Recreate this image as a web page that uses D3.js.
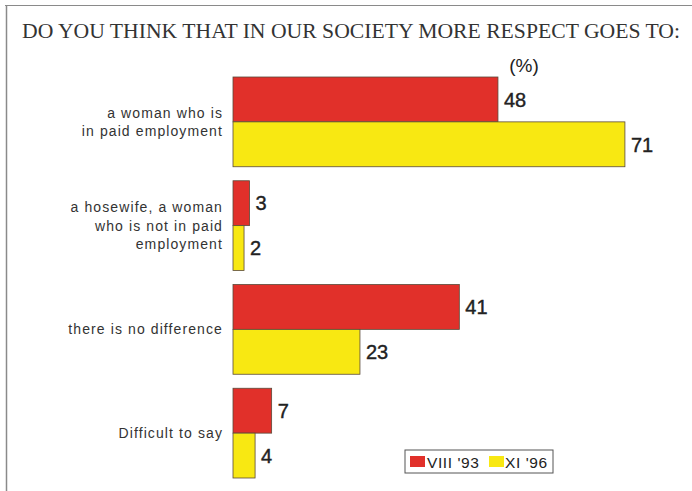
<!DOCTYPE html>
<html>
<head>
<meta charset="utf-8">
<script src="https://cdn.jsdelivr.net/npm/d3@7"></script>
<style>
  html, body { margin: 0; padding: 0; background: #fff; }
  svg { display: block; }
</style>
</head>
<body>
<svg id="chart" width="692" height="491"></svg>
<script>
// Survey answers: "more respect goes to..." (%)
const categories = [
  ["a woman who is", "in paid employment"],
  ["a hosewife, a woman", "who is not in paid", "employment"],
  ["there is no difference"],
  ["Difficult to say"]
];
const seriesNames = ["VIII '93", "XI '96"];
const valuesAug93 = [48, 3, 41, 7];
const valuesNov96 = [71, 2, 23, 4];
const seriesColors = ["#e1302a", "#f8e812"];

const svg = d3.select("#chart");
const sans = "'Liberation Sans', Arial, Helvetica, sans-serif";

// page frame
svg.append("line").attr("x1", 5).attr("x2", 692).attr("y1", 5.5).attr("y2", 5.5)
  .attr("stroke", "#8a8a8a").attr("stroke-width", 1.2);
svg.append("line").attr("x1", 6.5).attr("x2", 6.5).attr("y1", 5).attr("y2", 491)
  .attr("stroke", "#8a8a8a").attr("stroke-width", 1.5);

// title
svg.append("text")
  .attr("x", 22).attr("y", 38)
  .attr("font-family", "'Liberation Serif', 'Times New Roman', serif")
  .attr("font-size", 20)
  .attr("fill", "#333")
  .attr("textLength", 658)
  .attr("lengthAdjust", "spacingAndGlyphs")
  .text("DO YOU THINK THAT IN OUR SOCIETY MORE RESPECT GOES TO:");

svg.append("text")
  .attr("x", 524).attr("y", 72)
  .attr("text-anchor", "middle")
  .attr("font-family", sans)
  .attr("font-size", 19)
  .attr("fill", "#222")
  .text("(%)");

const keys = categories.map((c, i) => i);
const y = d3.scaleBand().domain(keys).range([77, 478]).paddingInner(0.135).paddingOuter(0);
const ySub = d3.scaleBand().domain(seriesNames).range([0, y.bandwidth()]);
const x = d3.scaleLinear().domain([0, 100]).range([233, 785]);

const rows = keys.map(i => ({
  i,
  label: categories[i],
  vals: [valuesAug93[i], valuesNov96[i]]
}));

const groups = svg.selectAll("g.group").data(rows).join("g")
  .attr("class", "group")
  .attr("transform", d => `translate(0,${y(d.i)})`);

groups.selectAll("rect").data(d => d.vals.map((v, s) => ({ v, s }))).join("rect")
  .attr("x", x(0))
  .attr("y", d => ySub(seriesNames[d.s]))
  .attr("width", d => x(d.v) - x(0))
  .attr("height", ySub.bandwidth())
  .attr("fill", d => seriesColors[d.s])
  .attr("stroke", "#5a4a3a")
  .attr("stroke-width", 0.8);

groups.selectAll("text.val").data(d => d.vals.map((v, s) => ({ v, s }))).join("text")
  .attr("class", "val")
  .attr("x", d => x(d.v) + 6)
  .attr("y", d => ySub(seriesNames[d.s]) + ySub.bandwidth() / 2)
  .attr("dy", "0.36em")
  .attr("font-family", sans)
  .attr("font-size", 20)
  .attr("fill", "#222")
  .attr("stroke", "#222")
  .attr("stroke-width", 0.4)
  .text(d => d.v);

// category labels, right aligned next to the bars
groups.append("text")
  .attr("text-anchor", "end")
  .attr("font-family", sans)
  .attr("font-size", 14)
  .attr("letter-spacing", 1.1)
  .attr("fill", "#333")
  .each(function(d) {
    const t = d3.select(this);
    const lh = 18.5;
    const n = d.label.length;
    d.label.forEach((line, k) => {
      t.append("tspan")
        .attr("x", 223)
        .attr("y", y.bandwidth() / 2 + (k - (n - 1) / 2) * lh)
        .attr("dy", "0.35em")
        .text(line);
    });
  });

// legend
const lg = svg.append("g").attr("transform", "translate(405,450)");
lg.append("rect").attr("width", 148).attr("height", 23)
  .attr("fill", "#fff").attr("stroke", "#555").attr("stroke-width", 1);
const legendPos = [[5, 22], [84, 100]];
seriesNames.forEach((name, s) => {
  lg.append("rect")
    .attr("x", legendPos[s][0]).attr("y", 6)
    .attr("width", 15).attr("height", 11)
    .attr("fill", seriesColors[s]);
  lg.append("text")
    .attr("x", legendPos[s][1]).attr("y", 12)
    .attr("dy", "0.36em")
    .attr("font-family", sans)
    .attr("font-size", 15.5)
    .attr("letter-spacing", 0.6)
    .attr("fill", "#222")
    .text(name);
});
</script>
</body>
</html>
